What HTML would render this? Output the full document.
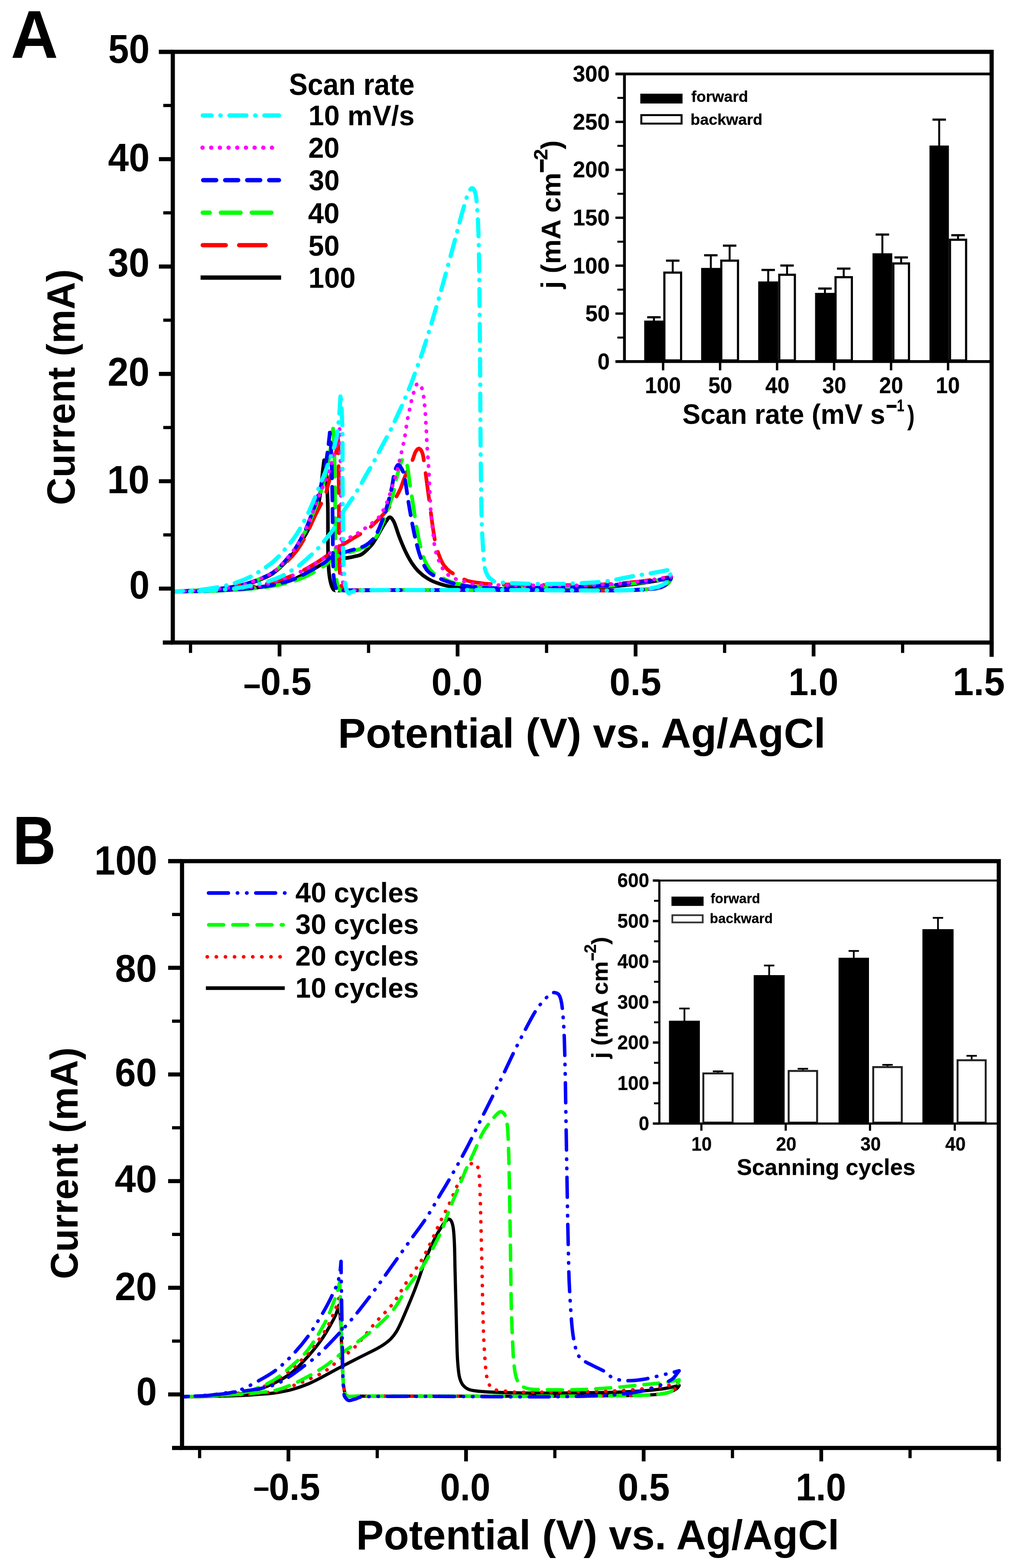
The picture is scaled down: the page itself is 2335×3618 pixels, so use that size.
<!DOCTYPE html>
<html lang="en"><head><meta charset="utf-8"><title>Figure: cyclic voltammograms</title>
<style>
html,body{margin:0;padding:0;background:#fff}
svg{display:block}
text{font-family:"Liberation Sans",Arial,Helvetica,sans-serif;font-weight:bold;fill:#000}
.ts{stroke:#000;stroke-width:0.3px}
path{fill:none}
</style></head>
<body>
<svg width="2335" height="3618" viewBox="0 0 2335 3618">
<rect width="2335" height="3618" fill="#fff"/>
<g id="panelA">
<g fill="none" stroke-linejoin="round">
<path d="M399 1365C409.2 1364.8 436.3 1364.8 460 1364C483.7 1363.2 520.8 1361.7 541 1360.5C561.2 1359.3 567.6 1358.5 581 1357C594.4 1355.5 608 1354 621.5 1351.5C635 1349 651.4 1344.9 661.8 1342C672.1 1339.1 676.3 1337.2 683.6 1334C690.9 1330.8 698.2 1326.8 705.4 1323C712.6 1319.2 719.7 1315.2 727 1311C734.3 1306.8 743.5 1301.4 749 1298C754.5 1294.6 755.5 1291.9 759.8 1290.5C764.1 1289.1 770 1289.8 775 1289.5C780 1289.2 785.3 1288.9 790 1288.5C794.7 1288.1 798.4 1287.8 803.4 1287C808.4 1286.2 814.6 1285 820 1283.5C825.4 1282 829.7 1282.4 836 1278C842.3 1273.6 852.3 1263.3 857.8 1257C863.3 1250.7 865.1 1246 868.8 1240C872.4 1234 876.1 1227.1 879.7 1221C883.3 1214.9 887.2 1208.1 890.5 1203.5C893.8 1198.9 896.5 1193.2 899.6 1193.5C902.7 1193.8 905.7 1197.6 909.3 1205C912.9 1212.4 916.7 1226.9 921 1238C925.3 1249.1 930.4 1261.6 935.1 1271.5C939.8 1281.4 944.1 1289.7 949.2 1297.5C954.3 1305.3 959.4 1312.2 965.7 1318.5C972 1324.8 979 1330.3 986.8 1335C994.6 1339.7 1002.4 1343.2 1012.6 1346.5C1022.8 1349.8 1034.1 1353 1047.8 1355C1061.5 1357 1077.8 1357.8 1094.8 1358.5C1111.8 1359.2 1115.8 1359.2 1150 1359C1184.2 1358.8 1258.3 1357.8 1300 1357C1341.7 1356.2 1372.8 1355.5 1400 1354C1427.2 1352.5 1445.8 1350 1463 1348C1480.2 1346 1488.7 1344.2 1503 1342C1517.3 1339.8 1541 1336.2 1548.6 1335L1548.6 1335C1547.5 1336.7 1545.9 1341.7 1542 1345C1538.1 1348.3 1533.7 1352.5 1525 1355C1516.3 1357.5 1510.8 1358.8 1490 1360C1469.2 1361.2 1448.3 1362.2 1400 1362.5C1351.7 1362.8 1266.7 1361.7 1200 1361.5C1133.3 1361.3 1066.3 1361.4 1000 1361.5C933.7 1361.6 839.3 1361.8 802 1362C764.7 1362.2 781.7 1363.2 776 1362.5C770.3 1361.8 770.3 1361.8 768 1358C765.7 1354.2 763.5 1347 762 1340C760.5 1333 759.6 1327.3 758.7 1316C757.8 1304.7 757.1 1293.8 756.8 1272C756.4 1250.2 756.8 1206.8 756.6 1185C756.4 1163.2 756.3 1157.7 755.5 1141C754.7 1124.3 753.3 1098.2 752 1085C750.7 1071.8 748.5 1065.8 747.8 1062L747.8 1062C747.3 1065.7 745.9 1076 745 1084C744.1 1092 743.9 1097.7 742.4 1110C740.9 1122.3 738.5 1145.3 735.9 1158C733.3 1170.7 730.3 1177.2 727 1186C723.7 1194.8 719.9 1203.2 716.3 1211C712.7 1218.8 710.8 1223.6 705.4 1233C700 1242.4 690.9 1257.3 683.6 1267.5C676.3 1277.7 669.1 1286.1 661.8 1294C654.5 1301.9 646.7 1309.3 640 1315C633.3 1320.7 631.3 1323.1 621.5 1328C611.7 1332.9 594.4 1340.1 581 1344.5C567.6 1348.9 554.5 1351.9 541 1354.5C527.5 1357.1 513.5 1358.6 500 1360C486.5 1361.4 476.8 1362.2 460 1363C443.2 1363.8 409.2 1364.7 399 1365" stroke="#000" stroke-width="8.4"/>
<path d="M399 1365C409.2 1364.8 436.3 1364.5 460 1363.5C483.7 1362.5 520.8 1360.6 541 1359C561.2 1357.4 567.6 1356.2 581 1354C594.4 1351.8 608 1349.5 621.5 1346C635 1342.5 651.4 1336.7 661.8 1333C672.1 1329.3 676.3 1327.3 683.6 1324C690.9 1320.7 698.2 1316.9 705.4 1313C712.6 1309.1 719.7 1305 727 1300.5C734.3 1296 743.2 1290 749 1286C754.8 1282 757.2 1280 762 1276.5C766.8 1273 772.9 1268.4 778 1265C783.1 1261.6 787.2 1259.3 792.5 1256C797.8 1252.7 803.5 1249 810 1245C816.5 1241 825.2 1236 831.7 1232C838.2 1228 842.8 1225.8 849 1221C855.2 1216.2 863 1208.5 868.8 1203C874.5 1197.5 879.1 1192.8 883.5 1188C887.9 1183.2 890.9 1179.5 895.2 1174C899.5 1168.5 904.6 1162.5 909.3 1155C914 1147.5 919.9 1136.5 923.4 1129C926.9 1121.5 927.5 1117.5 930.4 1110C933.3 1102.5 937.5 1092 941 1084C944.5 1076 948.7 1068.8 951.6 1062C954.5 1055.2 956.1 1047.5 958.6 1043C961.1 1038.5 964.1 1034.4 966.8 1035C969.5 1035.6 972.9 1039.8 975 1046.5C977.1 1053.2 978.1 1064.4 979.7 1075C981.3 1085.6 982.8 1098.3 984.4 1110C986 1121.7 987.5 1133.2 989.1 1145C990.7 1156.8 992.2 1168.8 993.8 1180.5C995.4 1192.2 996.5 1202.7 998.5 1215.5C1000.5 1228.3 1002.9 1245.8 1005.6 1257.5C1008.4 1269.2 1011.9 1278.2 1015 1286C1018.1 1293.8 1020.5 1299 1024.4 1304.5C1028.3 1310 1032.5 1314.7 1038.4 1319C1044.3 1323.3 1052.9 1327 1059.6 1330.5C1066.3 1334 1070.6 1337.6 1078.4 1340C1086.2 1342.4 1096 1343.7 1106.5 1345C1117 1346.3 1109.5 1347.2 1141.7 1348C1174 1348.8 1257 1350 1300 1350C1343 1350 1372.8 1349.2 1400 1348C1427.2 1346.8 1445.8 1344.7 1463 1343C1480.2 1341.3 1488.7 1340 1503 1338C1517.3 1336 1541 1332.2 1548.6 1331L1548.6 1331C1547.5 1332.7 1545.9 1337 1542 1341C1538.1 1345 1533.7 1351.8 1525 1355C1516.3 1358.2 1510.8 1358.8 1490 1360C1469.2 1361.2 1448.3 1362.2 1400 1362.5C1351.7 1362.8 1266.7 1361.7 1200 1361.5C1133.3 1361.3 1062.3 1361.4 1000 1361.5C937.7 1361.6 859.3 1361.8 826 1362C792.7 1362.2 806 1363.2 800 1362.5C794 1361.8 792.5 1362.6 790 1358C787.5 1353.4 786.2 1346.3 785 1335C783.8 1323.7 783.5 1312.5 783 1290C782.5 1267.5 782.2 1231.7 782 1200C781.8 1168.3 781.8 1130.8 781.5 1100C781.2 1069.2 780.7 1029.2 780.5 1015L780.5 1015C779.8 1019.2 778.1 1029.5 776 1040C773.9 1050.5 771.1 1065.2 768 1078C764.9 1090.8 760.8 1105.5 757.6 1117C754.4 1128.5 752.3 1138.5 749 1147C745.7 1155.5 741.7 1160.8 738 1168C734.3 1175.2 730.7 1182.3 727 1190C723.3 1197.7 719.6 1206.2 716 1214C712.4 1221.8 710.8 1227.3 705.4 1237C700 1246.7 690.9 1262.2 683.6 1272C676.3 1281.8 669.1 1289.2 661.8 1296C654.5 1302.8 646.7 1308 640 1313C633.3 1318 631.3 1321 621.5 1326C611.7 1331 594.4 1338.4 581 1343C567.6 1347.6 554.5 1350.8 541 1353.5C527.5 1356.2 513.5 1357.6 500 1359C486.5 1360.4 476.8 1361 460 1362C443.2 1363 409.2 1364.5 399 1365" stroke="#f00" stroke-width="8.6" stroke-dasharray="62.4 29.6" stroke-linecap="round" stroke-dashoffset="58.6"/>
<path d="M399 1365C409.2 1364.9 436.3 1365.1 460 1364.5C483.7 1363.9 520.8 1362.5 541 1361.5C561.2 1360.5 567.6 1359.8 581 1358.5C594.4 1357.2 608 1355.7 621.5 1353.5C635 1351.3 651.4 1347.9 661.8 1345.5C672.1 1343.1 676.3 1341.6 683.6 1339C690.9 1336.4 698.2 1333.3 705.4 1330C712.6 1326.7 719.7 1323.2 727 1319C734.3 1314.8 742.7 1309.5 749 1305C755.3 1300.5 759.6 1295.8 765 1292C770.4 1288.2 775.6 1284.6 781.6 1282C787.6 1279.4 793.8 1278.8 801 1276.5C808.2 1274.2 818.1 1270.9 825 1268.5C831.9 1266.1 837.1 1264.9 842.6 1262C848.1 1259.1 853.4 1255 857.8 1251C862.2 1247 865.1 1244 868.8 1238C872.4 1232 876.1 1223.4 879.7 1215C883.3 1206.6 887.3 1196.2 890.5 1187.5C893.7 1178.8 896.2 1170.8 899 1163C901.8 1155.2 904.1 1151.3 907 1140.5C909.9 1129.7 913.3 1110.4 916.4 1098C919.5 1085.6 923 1072.6 925.7 1066C928.4 1059.4 930.4 1056.9 932.8 1058.4C935.1 1059.9 937.6 1065.2 939.8 1075C941.9 1084.8 943.4 1101.4 945.7 1117C948.1 1132.6 951.4 1152.1 953.9 1168.5C956.4 1184.9 958.2 1199.8 961 1215.5C963.8 1231.2 966.9 1248.8 970.4 1262.5C973.9 1276.2 976.9 1287.3 982 1297.5C987.1 1307.7 993.8 1317.2 1000.9 1323.5C1008 1329.8 1016.6 1331.9 1024.4 1335.5C1032.2 1339.1 1036.1 1342.1 1047.8 1345C1059.5 1347.9 1077.8 1351 1094.8 1353C1111.8 1355 1115.8 1356.7 1150 1357C1184.2 1357.3 1258.3 1355.8 1300 1355C1341.7 1354.2 1372.8 1353.5 1400 1352C1427.2 1350.5 1445.8 1347.8 1463 1346C1480.2 1344.2 1488.7 1343 1503 1341C1517.3 1339 1541 1335.2 1548.6 1334L1548.6 1334C1547.5 1335.7 1545.9 1340.5 1542 1344C1538.1 1347.5 1533.7 1352.3 1525 1355C1516.3 1357.7 1510.8 1358.8 1490 1360C1469.2 1361.2 1448.3 1362.2 1400 1362.5C1351.7 1362.8 1266.7 1361.7 1200 1361.5C1133.3 1361.3 1063.8 1361.4 1000 1361.5C936.2 1361.6 851.8 1361.8 817 1362C782.2 1362.2 796.8 1363.2 791 1362.5C785.2 1361.8 784.3 1361.8 782 1358C779.7 1354.2 778.2 1349.7 777 1340C775.8 1330.3 775.1 1323.3 774.5 1300C773.9 1276.7 773.8 1233.3 773.5 1200C773.2 1166.7 772.9 1128.3 772.5 1100C772.1 1071.7 771.7 1048.5 771 1030C770.3 1011.5 768.9 995.8 768.5 989L768.5 989C767.9 994.2 766.4 1009.8 765 1020C763.6 1030.2 761.8 1039.2 760 1050C758.2 1060.8 756.2 1074.7 754 1085C751.8 1095.3 749.7 1102.3 747 1112C744.3 1121.7 741.3 1132.8 738 1143C734.7 1153.2 730.7 1163.5 727 1173C723.3 1182.5 719.7 1191.3 716 1200C712.3 1208.7 710.4 1214.5 705 1225C699.6 1235.5 690.8 1252 683.6 1263C676.4 1274 669.1 1282.7 661.8 1291C654.5 1299.3 646.7 1307.2 640 1313C633.3 1318.8 631.3 1321 621.5 1326C611.7 1331 594.4 1338.4 581 1343C567.6 1347.6 554.5 1350.8 541 1353.5C527.5 1356.2 513.5 1357.6 500 1359C486.5 1360.4 476.8 1361 460 1362C443.2 1363 409.2 1364.5 399 1365" stroke="#0f0" stroke-width="8.6" stroke-dasharray="46.8 24.4" stroke-linecap="round"/>
<path d="M399 1365C409.2 1364.8 436.3 1364.8 460 1364C483.7 1363.2 520.8 1361.7 541 1360.5C561.2 1359.3 567.6 1358.5 581 1357C594.4 1355.5 608 1354 621.5 1351.5C635 1349 651.4 1344.9 661.8 1342C672.1 1339.1 676.3 1337.2 683.6 1334C690.9 1330.8 698.2 1326.8 705.4 1323C712.6 1319.2 719.7 1315.2 727 1311C734.3 1306.8 743.2 1302 749 1298C754.8 1294 756.6 1290.2 762 1287C767.4 1283.8 775.1 1281.4 781.6 1279C788.1 1276.6 793.8 1274.8 801 1272.5C808.2 1270.2 818.1 1267.8 825 1265.5C831.9 1263.2 837.1 1262.1 842.6 1259C848.1 1255.9 853.4 1251.5 857.8 1247C862.2 1242.5 865.1 1238.7 868.8 1232C872.4 1225.3 876.4 1215.2 879.7 1207C883 1198.8 885.5 1192.2 888.4 1183C891.3 1173.8 894.7 1162.2 897.4 1152C900.1 1141.8 902.5 1132.3 904.6 1122C906.8 1111.7 907.9 1098.2 910.3 1090C912.7 1081.8 915.4 1072.7 918.8 1072.5C922.1 1072.3 927.7 1082.8 930.4 1089C933.1 1095.2 933.1 1098.7 935.1 1110C937.1 1121.3 939.7 1141.3 942.2 1157C944.8 1172.7 947.7 1189.5 950.4 1204C953.1 1218.5 955.7 1231.5 958.6 1244C961.5 1256.5 964.5 1268.5 968 1279C971.5 1289.5 975.4 1299.6 979.7 1307C984 1314.4 986.3 1318.2 993.8 1323.5C1001.2 1328.8 1013.4 1334.7 1024.4 1339C1035.4 1343.3 1047.9 1347 1059.6 1349.5C1071.3 1352 1079.7 1352.8 1094.8 1354C1109.9 1355.2 1115.8 1356.8 1150 1357C1184.2 1357.2 1258.3 1356 1300 1355C1341.7 1354 1372.8 1352.7 1400 1351C1427.2 1349.3 1445.8 1346.8 1463 1345C1480.2 1343.2 1488.7 1342 1503 1340C1517.3 1338 1541 1334.2 1548.6 1333L1548.6 1333C1547.5 1334.7 1545.9 1339.3 1542 1343C1538.1 1346.7 1533.7 1352.2 1525 1355C1516.3 1357.8 1510.8 1358.8 1490 1360C1469.2 1361.2 1448.3 1362.2 1400 1362.5C1351.7 1362.8 1266.7 1361.7 1200 1361.5C1133.3 1361.3 1065 1361.4 1000 1361.5C935 1361.6 846 1361.8 810 1362C774 1362.2 789.7 1363.2 784 1362.5C778.3 1361.8 778.2 1361.8 776 1358C773.8 1354.2 772.2 1349.7 771 1340C769.8 1330.3 769.1 1323.3 768.5 1300C767.9 1276.7 767.9 1233.3 767.5 1200C767.1 1166.7 766.6 1127.5 766 1100C765.4 1072.5 764.8 1052 764 1035C763.2 1018 761.5 1004.2 761 998L761 998C760.5 1002.5 759.3 1014.3 758 1025C756.7 1035.7 754.8 1050.3 753 1062C751.2 1073.7 749.5 1083.7 747 1095C744.5 1106.3 741.3 1118.3 738 1130C734.7 1141.7 730.7 1154.2 727 1165C723.3 1175.8 719.7 1185.5 716 1195C712.3 1204.5 710.4 1210.8 705 1222C699.6 1233.2 690.8 1250.7 683.6 1262C676.4 1273.3 669.1 1281.5 661.8 1290C654.5 1298.5 646.7 1307 640 1313C633.3 1319 631.3 1321 621.5 1326C611.7 1331 594.4 1338.4 581 1343C567.6 1347.6 554.5 1350.8 541 1353.5C527.5 1356.2 513.5 1357.6 500 1359C486.5 1360.4 476.8 1361 460 1362C443.2 1363 409.2 1364.5 399 1365" stroke="#00f" stroke-width="8.6" stroke-dasharray="31.4 19.4" stroke-linecap="round"/>
<path d="M399 1365C409.2 1364.8 436.3 1364.5 460 1363.5C483.7 1362.5 520.8 1360.6 541 1359C561.2 1357.4 567.6 1356.2 581 1354C594.4 1351.8 608 1349.5 621.5 1346C635 1342.5 651.4 1336.7 661.8 1333C672.1 1329.3 676.3 1327.3 683.6 1324C690.9 1320.7 698.2 1316.9 705.4 1313C712.6 1309.1 719.7 1305 727 1300.5C734.3 1296 743.2 1290.2 749 1286C754.8 1281.8 757.5 1279 762 1275C766.5 1271 771.3 1266.1 776 1262C780.7 1257.9 784.7 1254.2 790 1250.5C795.3 1246.8 802.6 1242.9 807.7 1240C812.8 1237.1 816.1 1235.7 820.8 1233C825.5 1230.3 831.3 1227.2 836 1224C840.7 1220.8 843.5 1217.6 849 1213.5C854.5 1209.4 863.7 1204.2 868.8 1199.5C873.9 1194.8 876.8 1189.2 879.7 1185C882.6 1180.8 883.8 1178.3 886 1174C888.2 1169.7 891 1163.8 892.9 1159C894.8 1154.2 895.9 1150.5 897.6 1145.5C899.4 1140.5 901.6 1134.5 903.4 1129C905.1 1123.5 906.3 1118.2 908.1 1112.5C909.9 1106.8 911.6 1103.6 914 1095C916.4 1086.4 920.2 1069.4 922.2 1061C924.2 1052.6 924.8 1050.4 926.2 1044.5C927.6 1038.6 929.1 1031.6 930.4 1025.5C931.7 1019.4 932.9 1014.1 934 1008C935.1 1001.9 935.8 995.2 936.8 989C937.8 982.8 938.7 976.6 939.8 970.5C940.9 964.4 942.1 958.4 943.4 952.5C944.6 946.6 946 941 947.3 935C948.6 929 949.6 922.2 951.1 916.5C952.6 910.8 954.5 906.1 956.3 901C958.1 895.9 959.8 888.2 962.1 886C964.5 883.8 968 884.5 970.4 888C972.8 891.5 974.8 900.8 976.2 907C977.6 913.2 977.8 919.1 978.6 925.5C979.4 931.9 980.3 938.6 980.9 945.5C981.5 952.4 981.7 960.2 982.1 967C982.5 973.8 982.9 979.9 983.3 986.5C983.7 993.1 984.1 999.8 984.4 1006.5C984.7 1013.2 984.7 1019.8 985.1 1026.5C985.5 1033.2 986.3 1039.8 986.8 1046.5C987.3 1053.2 987.5 1059.8 988 1066.5C988.5 1073.2 989.2 1079.8 989.6 1086.5C990 1093.2 990 1099.8 990.3 1106.5C990.6 1113.2 991.2 1119.8 991.5 1126.5C991.8 1133.2 991.9 1139.8 992.2 1146.5C992.5 1153.2 992.7 1160.1 993.1 1166.5C993.5 1172.9 994 1178.6 994.5 1185C995 1191.4 995.5 1198.3 996.2 1205C997 1211.7 998.2 1218.2 999 1225C999.8 1231.8 1000.1 1239.3 1000.9 1246C1001.7 1252.7 1002.5 1259.1 1003.7 1265C1004.9 1270.9 1006.2 1276.2 1007.9 1281.5C1009.6 1286.8 1011.6 1291.6 1013.8 1296.5C1015.9 1301.4 1018.1 1306.5 1020.8 1311C1023.5 1315.5 1026.5 1320 1030.2 1323.5C1033.9 1327 1038.6 1329.6 1043.1 1332C1047.6 1334.4 1052.1 1336.2 1057.2 1338C1062.3 1339.8 1068.2 1341 1073.7 1342.5C1079.2 1344 1077.3 1345.8 1090 1347C1102.7 1348.2 1115 1349.3 1150 1350C1185 1350.7 1258.3 1351.2 1300 1351C1341.7 1350.8 1372.8 1349.8 1400 1348.5C1427.2 1347.2 1445.8 1344.8 1463 1343C1480.2 1341.2 1488.7 1340.2 1503 1338C1517.3 1335.8 1541 1331.3 1548.6 1330L1548.6 1330C1547.5 1331.7 1545.9 1335.8 1542 1340C1538.1 1344.2 1533.7 1351.7 1525 1355C1516.3 1358.3 1510.8 1358.8 1490 1360C1469.2 1361.2 1448.3 1362.2 1400 1362.5C1351.7 1362.8 1266.7 1361.7 1200 1361.5C1133.3 1361.3 1061.7 1361.4 1000 1361.5C938.3 1361.6 862.7 1361.8 830 1362C797.3 1362.2 809.8 1363.2 804 1362.5C798.2 1361.8 797.3 1362.6 795 1358C792.7 1353.4 791.2 1346.3 790 1335C788.8 1323.7 788.5 1312.5 788 1290C787.5 1267.5 787.3 1231.7 787 1200C786.7 1168.3 786.5 1135.5 786 1100C785.5 1064.5 784.3 1005.8 784 987L784 987C783.2 991.7 781.3 1004.5 779 1015C776.7 1025.5 773.2 1038.3 770 1050C766.8 1061.7 763.3 1074.7 760 1085C756.7 1095.3 753.7 1102.8 750 1112C746.3 1121.2 741.8 1130.7 738 1140C734.2 1149.3 730.7 1158.7 727 1168C723.3 1177.3 719.7 1187 716 1196C712.3 1205 710.4 1211.2 705 1222C699.6 1232.8 690.8 1249.8 683.6 1261C676.4 1272.2 669.1 1280.3 661.8 1289C654.5 1297.7 646.7 1306.8 640 1313C633.3 1319.2 631.3 1321 621.5 1326C611.7 1331 594.4 1338.4 581 1343C567.6 1347.6 554.5 1350.8 541 1353.5C527.5 1356.2 513.5 1357.6 500 1359C486.5 1360.4 476.8 1361 460 1362C443.2 1363 409.2 1364.5 399 1365" stroke="#f0f" stroke-width="8.6" stroke-dasharray="0.9 19.13" stroke-linecap="round"/>
<path d="M399 1365C409.2 1364.8 443.2 1364.1 460 1363.5C476.8 1362.9 486.5 1362.4 500 1361.5C513.5 1360.6 527.5 1359.8 541 1358C554.5 1356.2 567.6 1353.9 581 1351C594.4 1348.1 610.6 1343.8 621.5 1340.5C632.4 1337.2 639.8 1333.9 646.5 1331C653.2 1328.1 654.5 1327.3 661.8 1323C669 1318.7 681.6 1311.2 690 1305C698.4 1298.8 704.7 1292.6 712 1286C719.3 1279.4 726.8 1272.8 733.7 1265.5C740.6 1258.2 747.1 1249.8 753.3 1242C759.5 1234.2 764.2 1229.3 770.7 1219C777.2 1208.7 785.2 1191.8 792.5 1180C799.8 1168.2 807.8 1158.1 814.3 1148C820.8 1137.9 826.6 1128.2 831.7 1119.5C836.8 1110.8 839.3 1105.6 844.8 1096C850.2 1086.4 858.6 1072.6 864.4 1062C870.2 1051.4 875 1041.4 879.7 1032.5C884.4 1023.6 888.9 1015.6 892.7 1008.5C896.5 1001.4 898 998.9 902.3 990C906.6 981.1 914 965.2 918.7 955C923.4 944.8 925.7 939.9 930.4 929C935.1 918.1 942.2 901.3 946.9 889.5C951.6 877.7 953.9 870.9 958.6 858C963.3 845.1 968.9 830.3 975 812C981.1 793.7 988.3 770 995 748C1001.7 726 1008.3 703.3 1015 680C1021.7 656.7 1028.8 630.5 1035 608C1041.2 585.5 1046.8 564.3 1052 545C1057.2 525.7 1061.8 507 1066 492C1070.2 477 1074 463.8 1077 455C1080 446.2 1082 442.4 1084 439C1086 435.6 1087.3 434.5 1089 434.3C1090.7 434.1 1092.5 435.1 1094 438C1095.5 440.9 1096.8 445 1098 452C1099.2 459 1100 465.2 1101 480C1102 494.8 1103.2 512.7 1104 541C1104.8 569.3 1105.4 600.2 1106 650C1106.6 699.8 1107.2 777 1107.7 840C1108.2 903 1108.3 969.3 1108.9 1028C1109.5 1086.7 1110.2 1151.8 1111.2 1192C1112.2 1232.2 1113.6 1249.9 1114.8 1269.5C1116 1289.1 1116.5 1299.7 1118.3 1309.5C1120 1319.3 1122.6 1323.8 1125.3 1328.5C1128 1333.2 1130.4 1335.5 1134.7 1338C1139 1340.5 1136.5 1342 1151 1343.5C1165.5 1345 1196.3 1346.4 1221.5 1347C1246.7 1347.6 1275.2 1347.7 1302 1347C1328.8 1346.3 1362.5 1344.7 1382.6 1343C1402.7 1341.3 1409.4 1339.3 1422.8 1337C1436.2 1334.7 1449.6 1331.4 1463 1329C1476.4 1326.6 1489 1325 1503.3 1322.5C1517.6 1320 1541 1315.4 1548.6 1314L1548.6 1314C1548 1316.7 1547.3 1324.7 1545 1330C1542.7 1335.3 1540.8 1341.7 1535 1346C1529.2 1350.3 1520.8 1353.6 1510 1356C1499.2 1358.4 1488.3 1359.4 1470 1360.5C1451.7 1361.6 1445 1362.3 1400 1362.5C1355 1362.7 1266.7 1361.7 1200 1361.5C1133.3 1361.3 1060 1361.4 1000 1361.5C940 1361.6 871.3 1361.2 840 1362C808.7 1362.8 818.1 1365 812 1366C805.9 1367 805.9 1370.9 803.4 1368C800.9 1365.1 798.7 1360.8 796.9 1348.5C795.1 1336.2 793.4 1317.6 792.5 1294C791.6 1270.4 791.8 1239.7 791.4 1207C791 1174.3 790.5 1130.8 790.3 1098C790.1 1065.2 790.6 1034.7 790.3 1010C790 985.3 789.2 967 788.5 950C787.8 933 786.4 915 786 908L786 908C785.4 916.7 784 943.7 782.5 960C781 976.3 779.2 994 777.2 1006C775.2 1018 774 1021.5 770.7 1032C767.4 1042.5 761.2 1058.8 757.6 1069C754 1079.2 752.3 1084.5 749 1093C745.7 1101.5 742 1110.2 738 1120C734 1129.8 729.3 1141.7 725 1152C720.7 1162.3 717.1 1171.4 712 1182C706.9 1192.6 699.7 1206.2 694.5 1215.5C689.3 1224.8 686.4 1230.2 681 1238C675.6 1245.8 668.2 1254.5 662 1262C655.8 1269.5 650.8 1276.2 644 1283C637.2 1289.8 632 1295.3 621.5 1303C611 1310.7 594.4 1321.9 581 1329C567.6 1336.1 554.5 1341.1 541 1345.5C527.5 1349.9 513.5 1352.9 500 1355.5C486.5 1358.1 476.8 1359.4 460 1361C443.2 1362.6 409.2 1364.3 399 1365" stroke="#0ff" stroke-width="9.6" stroke-dasharray="39.4 20.1 0.9 20.1" stroke-linecap="round" stroke-dashoffset="19.9"/>
</g>
<line x1="366.7" y1="119.6" x2="398.7" y2="119.6" stroke="#000" stroke-width="9.4" stroke-linecap="butt"/>
<line x1="366.7" y1="367.3" x2="398.7" y2="367.3" stroke="#000" stroke-width="9.4" stroke-linecap="butt"/>
<line x1="366.7" y1="615" x2="398.7" y2="615" stroke="#000" stroke-width="9.4" stroke-linecap="butt"/>
<line x1="366.7" y1="862.7" x2="398.7" y2="862.7" stroke="#000" stroke-width="9.4" stroke-linecap="butt"/>
<line x1="366.7" y1="1110.4" x2="398.7" y2="1110.4" stroke="#000" stroke-width="9.4" stroke-linecap="butt"/>
<line x1="366.7" y1="1358.1" x2="398.7" y2="1358.1" stroke="#000" stroke-width="9.4" stroke-linecap="butt"/>
<line x1="376.7" y1="243.4" x2="398.7" y2="243.4" stroke="#000" stroke-width="7.4" stroke-linecap="butt"/>
<line x1="376.7" y1="491.1" x2="398.7" y2="491.1" stroke="#000" stroke-width="7.4" stroke-linecap="butt"/>
<line x1="376.7" y1="738.8" x2="398.7" y2="738.8" stroke="#000" stroke-width="7.4" stroke-linecap="butt"/>
<line x1="376.7" y1="986.5" x2="398.7" y2="986.5" stroke="#000" stroke-width="7.4" stroke-linecap="butt"/>
<line x1="376.7" y1="1234.2" x2="398.7" y2="1234.2" stroke="#000" stroke-width="7.4" stroke-linecap="butt"/>
<line x1="645" y1="1482.6" x2="645" y2="1514.6" stroke="#000" stroke-width="8.6" stroke-linecap="butt"/>
<line x1="1055.8" y1="1482.6" x2="1055.8" y2="1514.6" stroke="#000" stroke-width="8.6" stroke-linecap="butt"/>
<line x1="1466.5" y1="1482.6" x2="1466.5" y2="1514.6" stroke="#000" stroke-width="8.6" stroke-linecap="butt"/>
<line x1="1877.2" y1="1482.6" x2="1877.2" y2="1514.6" stroke="#000" stroke-width="8.6" stroke-linecap="butt"/>
<line x1="439.6" y1="1482.6" x2="439.6" y2="1506.6" stroke="#000" stroke-width="7.4" stroke-linecap="butt"/>
<line x1="850.4" y1="1482.6" x2="850.4" y2="1506.6" stroke="#000" stroke-width="7.4" stroke-linecap="butt"/>
<line x1="1261.1" y1="1482.6" x2="1261.1" y2="1506.6" stroke="#000" stroke-width="7.4" stroke-linecap="butt"/>
<line x1="1671.9" y1="1482.6" x2="1671.9" y2="1506.6" stroke="#000" stroke-width="7.4" stroke-linecap="butt"/>
<line x1="2082.6" y1="1482.6" x2="2082.6" y2="1506.6" stroke="#000" stroke-width="7.4" stroke-linecap="butt"/>
<rect x="398.7" y="119.6" width="1889.3" height="1363" fill="none" stroke="#000" stroke-width="9.6"/>
<line x1="366.7" y1="119.6" x2="398.7" y2="119.6" stroke="#000" stroke-width="9.6" stroke-linecap="butt"/>
<line x1="375.7" y1="1482.6" x2="398.7" y2="1482.6" stroke="#000" stroke-width="9.6" stroke-linecap="butt"/>
<line x1="2288" y1="1482.6" x2="2288" y2="1515.6" stroke="#000" stroke-width="9.6" stroke-linecap="butt"/>
<text transform="translate(24.8 133.1) scale(0.9687 1)" font-size="156.23">A</text>
<text transform="translate(249.7 145.4) scale(0.9227 1)" font-size="92.96">50</text>
<text transform="translate(249.2 395.3) scale(0.9436 1)" font-size="91.41">40</text>
<text transform="translate(249.0 637.7) scale(0.9233 1)" font-size="93.38">30</text>
<text transform="translate(248.2 889.9) scale(0.9422 1)" font-size="92.39">20</text>
<text transform="translate(247.2 1138.1) scale(0.9682 1)" font-size="90.85">10</text>
<text transform="translate(298.2 1380.6) scale(0.9213 1)" font-size="91.41">0</text>
<text transform="translate(561.2 1608.9) scale(0.9193 1)" font-size="76.36">−</text>
<text transform="translate(600.9 1603.1) scale(0.9449 1)" font-size="89.72">0.5</text>
<text transform="translate(995.6 1603.6) scale(0.9474 1)" font-size="89.44">0.0</text>
<text transform="translate(1406.3 1603.6) scale(0.9623 1)" font-size="89.44">0.5</text>
<text transform="translate(1819.6 1603.6) scale(0.9223 1)" font-size="89.44">1.0</text>
<text transform="translate(2198.4 1603.6) scale(0.9610 1)" font-size="90.00">1.5</text>
<text transform="translate(779.7 1724.8) scale(1.0000 1)" font-size="96.28">Potential (V) vs. Ag/AgCl</text>
<text transform="translate(171.6 1165.5) rotate(-90) scale(0.9654 1)" font-size="91.44">Current (mA)</text>
<path d="M468 266.5H643.6" stroke="#0ff" stroke-width="10" stroke-dasharray="39 20.5 0.5 20.5" stroke-linecap="round" stroke-dashoffset="19"/>
<path d="M467.3 340.7H628" stroke="#f0f" stroke-width="10" stroke-dasharray="0.01 20.02" stroke-linecap="round" stroke-dashoffset="0"/>
<path d="M468.8 415.7H643.6" stroke="#00f" stroke-width="10" stroke-dasharray="30 20.8" stroke-linecap="round" stroke-dashoffset="0"/>
<path d="M467.8 490.8H627.2" stroke="#0f0" stroke-width="10" stroke-dasharray="45.4 25.8" stroke-linecap="round" stroke-dashoffset="29.4"/>
<path d="M467.8 565.7H613.2" stroke="#f00" stroke-width="10" stroke-dasharray="61 31" stroke-linecap="round" stroke-dashoffset="8"/>
<path d="M462.8 640.5H648.6" stroke="#000" stroke-width="10"/>
<text transform="translate(666.7 219.3) scale(0.9147 1)" font-size="70.42">Scan rate</text>
<text transform="translate(711.8 289.2) scale(0.9867 1)" font-size="65.64">10 mV/s</text>
<text transform="translate(711.2 363.8) scale(0.9699 1)" font-size="67.04">20</text>
<text transform="translate(712.4 439.1) scale(0.9535 1)" font-size="67.04">30</text>
<text transform="translate(710.7 514.7) scale(0.9770 1)" font-size="67.04">40</text>
<text transform="translate(711.6 589.7) scale(0.9652 1)" font-size="67.04">50</text>
<text transform="translate(711.8 663.8) scale(0.9722 1)" font-size="67.04">100</text>
<line x1="1420" y1="170.6" x2="1440.8" y2="170.6" stroke="#000" stroke-width="5.4" stroke-linecap="butt"/>
<line x1="1420" y1="281.2" x2="1440.8" y2="281.2" stroke="#000" stroke-width="5.4" stroke-linecap="butt"/>
<line x1="1420" y1="391.8" x2="1440.8" y2="391.8" stroke="#000" stroke-width="5.4" stroke-linecap="butt"/>
<line x1="1420" y1="502.4" x2="1440.8" y2="502.4" stroke="#000" stroke-width="5.4" stroke-linecap="butt"/>
<line x1="1420" y1="613" x2="1440.8" y2="613" stroke="#000" stroke-width="5.4" stroke-linecap="butt"/>
<line x1="1420" y1="723.6" x2="1440.8" y2="723.6" stroke="#000" stroke-width="5.4" stroke-linecap="butt"/>
<line x1="1420" y1="834.2" x2="1440.8" y2="834.2" stroke="#000" stroke-width="5.4" stroke-linecap="butt"/>
<line x1="1424.5" y1="225.9" x2="1440.8" y2="225.9" stroke="#000" stroke-width="4.6" stroke-linecap="butt"/>
<line x1="1424.5" y1="336.5" x2="1440.8" y2="336.5" stroke="#000" stroke-width="4.6" stroke-linecap="butt"/>
<line x1="1424.5" y1="447.1" x2="1440.8" y2="447.1" stroke="#000" stroke-width="4.6" stroke-linecap="butt"/>
<line x1="1424.5" y1="557.7" x2="1440.8" y2="557.7" stroke="#000" stroke-width="4.6" stroke-linecap="butt"/>
<line x1="1424.5" y1="668.3" x2="1440.8" y2="668.3" stroke="#000" stroke-width="4.6" stroke-linecap="butt"/>
<line x1="1424.5" y1="778.9" x2="1440.8" y2="778.9" stroke="#000" stroke-width="4.6" stroke-linecap="butt"/>
<line x1="1530" y1="834.2" x2="1530" y2="854.5" stroke="#000" stroke-width="5.5" stroke-linecap="butt"/>
<line x1="1661.5" y1="834.2" x2="1661.5" y2="854.5" stroke="#000" stroke-width="5.5" stroke-linecap="butt"/>
<line x1="1793" y1="834.2" x2="1793" y2="854.5" stroke="#000" stroke-width="5.5" stroke-linecap="butt"/>
<line x1="1924.5" y1="834.2" x2="1924.5" y2="854.5" stroke="#000" stroke-width="5.5" stroke-linecap="butt"/>
<line x1="2056" y1="834.2" x2="2056" y2="854.5" stroke="#000" stroke-width="5.5" stroke-linecap="butt"/>
<line x1="2187.5" y1="834.2" x2="2187.5" y2="854.5" stroke="#000" stroke-width="5.5" stroke-linecap="butt"/>
<line x1="1508.8" y1="732" x2="1508.8" y2="741.7" stroke="#000" stroke-width="4.5" stroke-linecap="butt"/>
<line x1="1493.3" y1="732" x2="1524.3" y2="732" stroke="#000" stroke-width="5" stroke-linecap="butt"/>
<line x1="1552.2" y1="601.4" x2="1552.2" y2="631" stroke="#000" stroke-width="4.5" stroke-linecap="butt"/>
<line x1="1536.7" y1="601.4" x2="1567.7" y2="601.4" stroke="#000" stroke-width="5" stroke-linecap="butt"/>
<rect x="1486.4" y="739.7" width="44.8" height="94.5" fill="#000"/>
<rect x="1532.9" y="629" width="38.6" height="202.7" fill="#fff" stroke="#000" stroke-width="5"/>
<line x1="1640.1" y1="589" x2="1640.1" y2="620.2" stroke="#000" stroke-width="4.5" stroke-linecap="butt"/>
<line x1="1624.6" y1="589" x2="1655.6" y2="589" stroke="#000" stroke-width="5" stroke-linecap="butt"/>
<line x1="1683.5" y1="566.8" x2="1683.5" y2="603.4" stroke="#000" stroke-width="4.5" stroke-linecap="butt"/>
<line x1="1668" y1="566.8" x2="1699" y2="566.8" stroke="#000" stroke-width="5" stroke-linecap="butt"/>
<rect x="1617.7" y="618.2" width="44.8" height="216" fill="#000"/>
<rect x="1664.2" y="601.4" width="38.6" height="230.3" fill="#fff" stroke="#000" stroke-width="5"/>
<line x1="1772.5" y1="622.9" x2="1772.5" y2="651.4" stroke="#000" stroke-width="4.5" stroke-linecap="butt"/>
<line x1="1757" y1="622.9" x2="1788" y2="622.9" stroke="#000" stroke-width="5" stroke-linecap="butt"/>
<line x1="1816" y1="612.7" x2="1816" y2="636" stroke="#000" stroke-width="4.5" stroke-linecap="butt"/>
<line x1="1800.5" y1="612.7" x2="1831.5" y2="612.7" stroke="#000" stroke-width="5" stroke-linecap="butt"/>
<rect x="1749.4" y="649.4" width="46.1" height="184.8" fill="#000"/>
<rect x="1798" y="634" width="36" height="197.7" fill="#fff" stroke="#000" stroke-width="5"/>
<line x1="1903.4" y1="665.8" x2="1903.4" y2="677.8" stroke="#000" stroke-width="4.5" stroke-linecap="butt"/>
<line x1="1887.9" y1="665.8" x2="1918.9" y2="665.8" stroke="#000" stroke-width="5" stroke-linecap="butt"/>
<line x1="1946.7" y1="619.8" x2="1946.7" y2="641.6" stroke="#000" stroke-width="4.5" stroke-linecap="butt"/>
<line x1="1931.2" y1="619.8" x2="1962.2" y2="619.8" stroke="#000" stroke-width="5" stroke-linecap="butt"/>
<rect x="1880.6" y="675.8" width="45.6" height="158.4" fill="#000"/>
<rect x="1927.9" y="639.6" width="37.6" height="192.1" fill="#fff" stroke="#000" stroke-width="5"/>
<line x1="2035.9" y1="541.2" x2="2035.9" y2="586.4" stroke="#000" stroke-width="4.5" stroke-linecap="butt"/>
<line x1="2020.4" y1="541.2" x2="2051.4" y2="541.2" stroke="#000" stroke-width="5" stroke-linecap="butt"/>
<line x1="2079.2" y1="594" x2="2079.2" y2="609.9" stroke="#000" stroke-width="4.5" stroke-linecap="butt"/>
<line x1="2063.8" y1="594" x2="2094.8" y2="594" stroke="#000" stroke-width="5" stroke-linecap="butt"/>
<rect x="2013.2" y="584.4" width="45.5" height="249.8" fill="#000"/>
<rect x="2061.2" y="607.9" width="36.1" height="223.8" fill="#fff" stroke="#000" stroke-width="5"/>
<line x1="2167" y1="276" x2="2167" y2="337.8" stroke="#000" stroke-width="4.5" stroke-linecap="butt"/>
<line x1="2151.5" y1="276" x2="2182.5" y2="276" stroke="#000" stroke-width="5" stroke-linecap="butt"/>
<line x1="2210.5" y1="542.7" x2="2210.5" y2="555.2" stroke="#000" stroke-width="4.5" stroke-linecap="butt"/>
<line x1="2195" y1="542.7" x2="2226" y2="542.7" stroke="#000" stroke-width="5" stroke-linecap="butt"/>
<rect x="2144.6" y="335.8" width="44.8" height="498.4" fill="#000"/>
<rect x="2191.9" y="553.2" width="37.2" height="278.5" fill="#fff" stroke="#000" stroke-width="5"/>
<line x1="1440.8" y1="170.6" x2="1440.8" y2="834.2" stroke="#000" stroke-width="6.5" stroke-linecap="butt"/>
<line x1="1420" y1="170.6" x2="2288" y2="170.6" stroke="#000" stroke-width="6.4" stroke-linecap="butt"/>
<line x1="1420" y1="834.2" x2="2288" y2="834.2" stroke="#000" stroke-width="6.4" stroke-linecap="butt"/>
<text transform="translate(1321.7 188.2) scale(0.9819 1)" font-size="51.97" class="ts">300</text>
<text transform="translate(1321.7 298.8) scale(0.9819 1)" font-size="51.97" class="ts">250</text>
<text transform="translate(1321.7 409.4) scale(0.9819 1)" font-size="51.97" class="ts">200</text>
<text transform="translate(1321.7 520.0) scale(0.9818 1)" font-size="51.97" class="ts">150</text>
<text transform="translate(1321.7 630.6) scale(0.9818 1)" font-size="51.97" class="ts">100</text>
<text transform="translate(1350.4 741.2) scale(0.9800 1)" font-size="51.97" class="ts">50</text>
<text transform="translate(1378.8 851.8) scale(0.9734 1)" font-size="51.97" class="ts">0</text>
<text transform="translate(1487.9 906.5) scale(0.9517 1)" font-size="52.25" class="ts">100</text>
<text transform="translate(1634.2 906.5) scale(0.9498 1)" font-size="52.25" class="ts">50</text>
<text transform="translate(1766.1 906.5) scale(0.9499 1)" font-size="52.25" class="ts">40</text>
<text transform="translate(1897.3 906.5) scale(0.9498 1)" font-size="52.25" class="ts">30</text>
<text transform="translate(2028.6 906.5) scale(0.9498 1)" font-size="52.25" class="ts">20</text>
<text transform="translate(2159.3 906.5) scale(0.9496 1)" font-size="52.25" class="ts">10</text>
<rect x="1477.4" y="216.2" width="97.4" height="22.6" fill="#000"/>
<rect x="1479.7" y="265.6" width="92.9" height="19.6" fill="#fff" stroke="#000" stroke-width="4.5"/>
<text transform="translate(1595.1 235.0) scale(0.9956 1)" font-size="35.92" class="ts">forward</text>
<text transform="translate(1593.3 288.0) scale(1.0094 1)" font-size="35.65" class="ts">backward</text>
<text transform="translate(1292.7 666.2) rotate(-90) scale(1.0140 1)" font-size="63.10">j (mA cm</text>
<text transform="translate(1276.1 399.7) rotate(-90) scale(0.7609 1)" font-size="77.27">−</text>
<text transform="translate(1263.2 369.4) rotate(-90) scale(1.0423 1)" font-size="44.57" class="ts">2</text>
<text transform="translate(1292.7 344.7) rotate(-90) scale(0.9961 1)" font-size="63.10">)</text>
<text transform="translate(1574.6 978.0) scale(0.9754 1)" font-size="63.96">Scan rate (mV s</text>
<text transform="translate(2043.8 959.3) scale(0.7103 1)" font-size="63.64">−</text>
<text transform="translate(2069.5 948.6) scale(0.7749 1)" font-size="39.13" class="ts">1</text>
<text transform="translate(2093.2 980.2) scale(0.8179 1)" font-size="63.32">)</text>
</g>
<g id="panelB">
<g fill="none" stroke-linejoin="round">
<path d="M420 3222.5C429.7 3222.4 455.4 3222.4 478 3222C500.6 3221.6 536.3 3220.8 555.8 3220C575.3 3219.2 581.8 3218.5 594.8 3217.5C607.8 3216.5 620.8 3215.8 633.8 3214C646.8 3212.2 659.7 3210 672.7 3206.5C685.7 3203 698.7 3198.5 711.7 3193C724.7 3187.5 738.7 3179.7 750.6 3173.5C762.5 3167.3 770 3162.8 783 3156C796 3149.2 814.5 3139.7 828.6 3132.5C842.7 3125.3 857.9 3118.1 867.5 3113C877.1 3107.9 880.2 3106 886 3102C891.8 3098 897.2 3094 902 3089C906.8 3084 911 3078.5 915 3072C919 3065.5 921.6 3059.7 926 3050C930.4 3040.3 936.3 3026.3 941.5 3014C946.7 3001.7 952.4 2987.8 957 2976C961.6 2964.2 965 2954.3 969 2943C973 2931.7 976.5 2919.7 981 2908C985.5 2896.3 991.2 2883.5 996 2873C1000.8 2862.5 1005.2 2853.5 1010 2845C1014.8 2836.5 1021.2 2826.9 1024.7 2822C1028.2 2817.1 1029 2817 1031 2815.5C1033 2814 1034.6 2812.4 1036.4 2813C1038.2 2813.6 1040.4 2815.3 1042 2819C1043.6 2822.7 1044.9 2826.5 1046 2835C1047.1 2843.5 1047.8 2853.5 1048.5 2870C1049.2 2886.5 1049.4 2910.4 1050 2934C1050.6 2957.6 1051.3 2985.6 1052 3011.5C1052.7 3037.4 1053.3 3068.1 1053.9 3089.5C1054.5 3110.9 1054.8 3125.7 1055.8 3140C1056.8 3154.3 1057.8 3166.3 1059.7 3175.5C1061.7 3184.7 1063.6 3189.8 1067.5 3195C1071.4 3200.2 1075.2 3203.8 1083 3206.5C1090.8 3209.2 1099 3209.8 1114 3211C1129 3212.2 1149.9 3212.9 1172.7 3213.5C1195.5 3214.1 1212.7 3214.6 1250.6 3214.5C1288.5 3214.4 1361.8 3213.8 1400 3213C1438.2 3212.2 1458.3 3210.9 1480 3209.5C1501.7 3208.1 1515.5 3206.6 1530 3204.5C1544.5 3202.4 1560.8 3198.2 1567 3197L1567 3197C1566 3198.2 1564.7 3202 1561 3204.5C1557.3 3207 1552.7 3209.8 1545 3212C1537.3 3214.2 1529.2 3216.2 1515 3217.5C1500.8 3218.8 1495.8 3219.3 1460 3220C1424.2 3220.7 1376.7 3221.2 1300 3221.5C1223.3 3221.8 1078.3 3221.5 1000 3221.5C921.7 3221.5 862.3 3221.4 830 3221.5C797.7 3221.6 811.5 3222.8 806 3222C800.5 3221.2 799.2 3221.5 797 3217C794.8 3212.5 793.7 3206.2 792.5 3195C791.3 3183.8 790.8 3165.8 790 3150C789.2 3134.2 788.7 3116.7 788 3100C787.3 3083.3 787 3064.8 786 3050C785 3035.2 782.7 3017.9 782 3011.5L782 3011.5C780.8 3015.1 777.6 3026.5 775 3033C772.4 3039.5 771.6 3041.1 766.2 3050.5C760.9 3059.9 752 3076.5 742.9 3089.5C733.8 3102.5 723.4 3115.5 711.7 3128.5C700 3141.5 685.7 3157.1 672.7 3167.5C659.7 3177.9 646.8 3184.5 633.8 3191C620.8 3197.5 607.8 3202.3 594.8 3206.5C581.8 3210.7 575.3 3213.4 555.8 3216C536.3 3218.6 500.6 3220.8 478 3222C455.4 3223.2 429.7 3222.8 420 3223" stroke="#000" stroke-width="7.4"/>
<path d="M420 3222.5C429.7 3222.3 455.4 3222.2 478 3221.5C500.6 3220.8 536.3 3219.1 555.8 3218C575.3 3216.9 581.8 3216.2 594.8 3215C607.8 3213.8 620.8 3213.2 633.8 3210.5C646.8 3207.8 659.7 3203.1 672.7 3198.5C685.7 3193.9 698.7 3188.8 711.7 3183C724.7 3177.2 738.6 3171.2 750.6 3163.5C762.6 3155.8 774.1 3144.2 783.8 3136.5C793.5 3128.8 801.5 3123.5 809 3117C816.5 3110.5 818.9 3108.6 828.6 3097.5C838.4 3086.4 854.5 3065.4 867.5 3050.5C880.5 3035.6 894.6 3023.6 906.5 3008C918.4 2992.4 927.1 2975.2 939 2957C950.9 2938.8 965 2921.8 978 2898.5C991 2875.2 1007.2 2837.1 1016.9 2817C1026.6 2796.9 1029.9 2791.8 1036.4 2778C1042.9 2764.2 1049.3 2747.2 1055.8 2734C1062.3 2720.8 1070.4 2706.3 1075.3 2698.5C1080.2 2690.7 1082.1 2689.6 1085 2687C1087.9 2684.4 1090.4 2682.8 1092.9 2683C1095.4 2683.2 1098.2 2685.2 1100 2688C1101.8 2690.8 1102.9 2693.8 1104 2700C1105.1 2706.2 1105.8 2712 1106.5 2725C1107.2 2738 1107.8 2756.2 1108.4 2778C1109.1 2799.8 1109.8 2830 1110.4 2856C1111.1 2882 1111.7 2904.8 1112.3 2934C1112.9 2963.2 1113.6 3005.1 1114.3 3031C1115 3056.9 1115.4 3071.9 1116.2 3089.5C1117 3107.1 1117.9 3122.2 1119 3136.5C1120.1 3150.8 1121.1 3165.4 1122.9 3175.5C1124.7 3185.6 1126.8 3191.8 1129.9 3197C1133 3202.2 1134.5 3204.2 1141.6 3206.5C1148.7 3208.8 1161 3209.5 1172.7 3210.5C1184.4 3211.5 1173.8 3212.6 1211.7 3212.5C1249.6 3212.4 1355.3 3211.2 1400 3210C1444.7 3208.8 1458.3 3206.8 1480 3205C1501.7 3203.2 1515.5 3201.4 1530 3199C1544.5 3196.6 1560.8 3191.9 1567 3190.5L1567 3190.5C1566 3192.3 1564.7 3197.7 1561 3201.2C1557.3 3204.8 1552.7 3209.3 1545 3212C1537.3 3214.7 1529.2 3216.2 1515 3217.5C1500.8 3218.8 1495.8 3219.3 1460 3220C1424.2 3220.7 1376.7 3221.2 1300 3221.5C1223.3 3221.8 1078.3 3221.5 1000 3221.5C921.7 3221.5 862.3 3221.4 830 3221.5C797.7 3221.6 811.5 3222.8 806 3222C800.5 3221.2 799.2 3221.5 797 3217C794.8 3212.5 793.7 3206.2 792.5 3195C791.3 3183.8 790.8 3165.8 790 3150C789.2 3134.2 788.7 3118.3 788 3100C787.3 3081.7 787 3057.3 786 3040C785 3022.7 782.7 3003.3 782 2996L782 2996C781.2 2998.7 779 3006.3 777 3012C775 3017.7 774.4 3020.3 770 3030C765.6 3039.7 760.3 3054.8 750.6 3070C740.9 3085.2 724.7 3106.1 711.7 3121C698.7 3135.9 685.7 3148.5 672.7 3159.5C659.7 3170.5 646.8 3179.5 633.8 3187C620.8 3194.5 607.8 3200 594.8 3204.5C581.8 3209 575.3 3211.2 555.8 3214C536.3 3216.8 500.6 3219.5 478 3221C455.4 3222.5 429.7 3222.7 420 3223" stroke="#f00" stroke-width="8" stroke-dasharray="0.5 20.5" stroke-linecap="round" stroke-dashoffset="12"/>
<path d="M420 3222.5C429.7 3222.2 455.4 3221.9 478 3221C500.6 3220.1 536.3 3218.2 555.8 3217C575.3 3215.8 581.8 3214.9 594.8 3213.5C607.8 3212.1 620.8 3211.6 633.8 3208.5C646.8 3205.4 659.7 3200.5 672.7 3195C685.7 3189.5 698.7 3182.7 711.7 3175.5C724.7 3168.3 738.3 3160.5 750.6 3152C762.9 3143.5 772.7 3134.2 785.7 3124.5C798.7 3114.8 815 3103.8 828.6 3093.5C842.2 3083.2 854.5 3074.2 867.5 3062.5C880.5 3050.8 894.6 3038.5 906.5 3023.5C918.4 3008.5 927.1 2990.1 939 2972.5C950.9 2954.9 965 2939.4 978 2918C991 2896.6 1007.2 2865 1016.9 2844C1026.6 2823 1029.9 2808.4 1036.4 2792C1042.9 2775.6 1049.3 2761.1 1055.8 2745.5C1062.3 2729.9 1068.8 2713.4 1075.3 2698.5C1081.8 2683.6 1088.3 2670.2 1094.8 2656C1101.3 2641.8 1107.8 2624.8 1114.3 2613C1120.8 2601.2 1127.9 2593 1133.8 2585.5C1139.7 2578 1145.5 2571.3 1149.4 2568C1153.3 2564.7 1154.6 2565 1157 2565.5C1159.4 2566 1162.1 2567.8 1164 2571C1165.9 2574.2 1167.2 2578.7 1168.5 2585C1169.8 2591.3 1170.7 2595.2 1171.6 2609C1172.5 2622.8 1173.2 2644.8 1173.9 2667.5C1174.6 2690.2 1174.9 2714.1 1175.5 2745.5C1176.1 2776.9 1176.7 2811.7 1177.4 2856C1178.1 2900.3 1178.9 2972.6 1179.7 3011.5C1180.5 3050.4 1181.6 3068.1 1182.5 3089.5C1183.4 3110.9 1183.9 3125.7 1185.2 3140C1186.5 3154.3 1187.8 3166.3 1190.3 3175.5C1192.8 3184.7 1195.1 3190.2 1200 3195C1204.9 3199.8 1211.1 3202.6 1219.5 3204.5C1227.9 3206.4 1232.4 3206.2 1250.6 3206.5C1268.8 3206.8 1302.6 3207.2 1328.6 3206.5C1354.6 3205.8 1380.5 3204.4 1406.5 3202.5C1432.5 3200.6 1464.7 3196.9 1484.4 3195C1504.1 3193.1 1510.9 3192.8 1524.7 3191C1538.5 3189.2 1560 3185.2 1567 3184L1567 3184C1566 3186.3 1564.7 3193.3 1561 3198C1557.3 3202.7 1552.7 3208.8 1545 3212C1537.3 3215.2 1529.2 3216.2 1515 3217.5C1500.8 3218.8 1495.8 3219.3 1460 3220C1424.2 3220.7 1376.7 3221.2 1300 3221.5C1223.3 3221.8 1078.3 3221.5 1000 3221.5C921.7 3221.5 862.3 3221.4 830 3221.5C797.7 3221.6 811.5 3222.8 806 3222C800.5 3221.2 799.2 3221.5 797 3217C794.8 3212.5 793.7 3206.2 792.5 3195C791.3 3183.8 790.8 3165.8 790 3150C789.2 3134.2 788.7 3121.7 788 3100C787.3 3078.3 786.7 3043.8 786 3020C785.3 2996.2 784.2 2967.5 783.8 2957L783.8 2957C782.8 2961.2 780.3 2974.2 778 2982C775.7 2989.8 774.6 2992.6 770 3004C765.4 3015.4 760.3 3032.3 750.6 3050.5C740.9 3068.7 724.7 3096.1 711.7 3113C698.7 3129.9 685.7 3140.3 672.7 3152C659.7 3163.7 646.8 3174.6 633.8 3183C620.8 3191.4 607.8 3197.2 594.8 3202.5C581.8 3207.8 575.3 3211.4 555.8 3214.5C536.3 3217.6 500.6 3219.6 478 3221C455.4 3222.4 429.7 3222.7 420 3223" stroke="#0f0" stroke-width="8" stroke-dasharray="34.5 21.3" stroke-linecap="round" stroke-dashoffset="7.8"/>
<path d="M420 3222.5C429.7 3222.1 461.8 3221.3 478 3220C494.2 3218.7 503.3 3216.2 517 3214.5C530.7 3212.8 544.5 3212.1 560 3210C575.5 3207.9 596.5 3205 610 3202C623.5 3199 631 3196.5 641 3192C651 3187.5 660.8 3181 670 3175C679.2 3169 685.8 3163.7 696 3156C706.2 3148.3 718.7 3140 731 3129C743.3 3118 757 3103.7 770 3090C783 3076.3 799.2 3058.1 809 3047C818.8 3035.9 818.9 3035.9 828.6 3023.5C838.4 3011.1 854.5 2990.1 867.5 2972.5C880.5 2954.9 893.5 2936.2 906.5 2918C919.5 2899.8 932.4 2881.7 945.4 2863.5C958.4 2845.3 972.5 2827.2 984.4 2809C996.3 2790.8 1008.2 2769 1016.9 2754.5C1025.6 2740 1026.7 2739.1 1036.4 2722C1046.1 2704.9 1062.3 2676.7 1075.3 2652C1088.3 2627.3 1101.3 2600 1114.3 2574C1127.3 2548 1140.2 2522.6 1153.2 2496C1166.2 2469.4 1179.2 2440.4 1192.2 2414.5C1205.2 2388.6 1221.5 2357.4 1231.2 2340.5C1240.9 2323.6 1244.1 2320.8 1250.6 2313C1257.1 2305.2 1265.2 2297.3 1270.1 2293.5C1275 2289.7 1276.7 2290.1 1279.9 2290.4C1283.2 2290.7 1287 2291.7 1289.6 2295.5C1292.2 2299.3 1293.9 2304.2 1295.5 2313C1297.1 2321.8 1298.3 2334.3 1299.4 2348C1300.5 2361.7 1301.2 2374.2 1302 2395C1302.8 2415.8 1303.3 2440.1 1304 2472.5C1304.7 2504.9 1305.3 2550.5 1306 2589.5C1306.7 2628.5 1307.3 2668.6 1308 2706.5C1308.7 2744.4 1309.2 2782.6 1309.9 2817C1310.6 2851.4 1311.4 2888.3 1312 2913C1312.6 2937.7 1312.5 2942.8 1313.6 2965C1314.7 2987.2 1316.9 3025.4 1318.5 3046C1320.1 3066.6 1321.2 3076 1323.4 3088.5C1325.6 3101 1328.2 3112.9 1331.5 3121C1334.8 3129.1 1336.7 3131.9 1342.9 3137C1349.1 3142.1 1360.2 3146.9 1368.8 3151.5C1377.4 3156.1 1387.8 3160.2 1394.8 3164.5C1401.8 3168.8 1404.5 3174.1 1411 3177.5C1417.5 3180.9 1425.7 3183.7 1433.8 3185C1441.9 3186.3 1451 3185.9 1459.7 3185.5C1468.4 3185.1 1477.6 3183.8 1485.7 3182.5C1493.8 3181.2 1499.2 3179.7 1508.4 3177.5C1517.6 3175.3 1531.1 3171.9 1540.9 3169.5C1550.7 3167.1 1562.7 3164.1 1567 3163L1567 3163C1566.2 3164.1 1564.7 3166.2 1562 3169.5C1559.3 3172.8 1556.8 3178.2 1550.6 3182.5C1544.4 3186.8 1534.4 3191.4 1524.7 3195.5C1515 3199.6 1503 3204 1492.2 3207C1481.4 3210 1475.9 3211.3 1459.7 3213.5C1443.5 3215.7 1421.8 3218.5 1394.8 3220C1367.8 3221.5 1329.9 3222 1297.4 3222.5C1264.9 3223 1249.6 3223.1 1200 3223C1150.4 3222.9 1058.3 3222.1 1000 3222C941.7 3221.9 880 3221.5 850 3222.5C820 3223.5 827.5 3226.5 820 3228C812.5 3229.5 809 3232 805.2 3231.5C801.4 3231 799 3227.9 797 3225C795 3222.1 794.5 3223.6 793.5 3214C792.5 3204.4 791.8 3194.8 791 3167.5C790.2 3140.2 789.6 3084.6 789 3050C788.4 3015.4 787.9 2983.2 787.5 2960C787.1 2936.8 787 2918.8 786.9 2910.5L786.9 2910.5C786.5 2914.6 785.6 2927.2 784.5 2935C783.4 2942.8 781.8 2950.8 780 2957C778.2 2963.2 778.9 2962.1 774 2972.5C769.1 2982.9 761 3001.2 750.6 3019.5C740.2 3037.8 724.7 3063.8 711.7 3082C698.7 3100.2 685.7 3114.9 672.7 3128.5C659.7 3142.1 646.8 3153.8 633.8 3163.5C620.8 3173.2 607.8 3179.8 594.8 3187C581.8 3194.2 568.8 3201.7 555.8 3206.5C542.8 3211.3 536.4 3213.4 516.9 3216C497.4 3218.6 455.1 3220.8 439 3222C422.9 3223.2 423.2 3222.8 420 3223" stroke="#00f" stroke-width="8" stroke-dasharray="46 20.5 1 20.5 1 20" stroke-linecap="round" stroke-dashoffset="74.5"/>
</g>
<line x1="388" y1="1987" x2="420" y2="1987" stroke="#000" stroke-width="9.4" stroke-linecap="butt"/>
<line x1="388" y1="2233.1" x2="420" y2="2233.1" stroke="#000" stroke-width="9.4" stroke-linecap="butt"/>
<line x1="388" y1="2479.2" x2="420" y2="2479.2" stroke="#000" stroke-width="9.4" stroke-linecap="butt"/>
<line x1="388" y1="2725.3" x2="420" y2="2725.3" stroke="#000" stroke-width="9.4" stroke-linecap="butt"/>
<line x1="388" y1="2971.4" x2="420" y2="2971.4" stroke="#000" stroke-width="9.4" stroke-linecap="butt"/>
<line x1="388" y1="3217.5" x2="420" y2="3217.5" stroke="#000" stroke-width="9.4" stroke-linecap="butt"/>
<line x1="397" y1="2110.1" x2="420" y2="2110.1" stroke="#000" stroke-width="7.4" stroke-linecap="butt"/>
<line x1="397" y1="2356.2" x2="420" y2="2356.2" stroke="#000" stroke-width="7.4" stroke-linecap="butt"/>
<line x1="397" y1="2602.2" x2="420" y2="2602.2" stroke="#000" stroke-width="7.4" stroke-linecap="butt"/>
<line x1="397" y1="2848.3" x2="420" y2="2848.3" stroke="#000" stroke-width="7.4" stroke-linecap="butt"/>
<line x1="397" y1="3094.4" x2="420" y2="3094.4" stroke="#000" stroke-width="7.4" stroke-linecap="butt"/>
<line x1="665.5" y1="3341" x2="665.5" y2="3372" stroke="#000" stroke-width="8.6" stroke-linecap="butt"/>
<line x1="1075.3" y1="3341" x2="1075.3" y2="3372" stroke="#000" stroke-width="8.6" stroke-linecap="butt"/>
<line x1="1485.1" y1="3341" x2="1485.1" y2="3372" stroke="#000" stroke-width="8.6" stroke-linecap="butt"/>
<line x1="1894.9" y1="3341" x2="1894.9" y2="3372" stroke="#000" stroke-width="8.6" stroke-linecap="butt"/>
<line x1="460.6" y1="3341" x2="460.6" y2="3364.5" stroke="#000" stroke-width="7.4" stroke-linecap="butt"/>
<line x1="870.4" y1="3341" x2="870.4" y2="3364.5" stroke="#000" stroke-width="7.4" stroke-linecap="butt"/>
<line x1="1280.2" y1="3341" x2="1280.2" y2="3364.5" stroke="#000" stroke-width="7.4" stroke-linecap="butt"/>
<line x1="1690" y1="3341" x2="1690" y2="3364.5" stroke="#000" stroke-width="7.4" stroke-linecap="butt"/>
<line x1="2099.8" y1="3341" x2="2099.8" y2="3364.5" stroke="#000" stroke-width="7.4" stroke-linecap="butt"/>
<rect x="420" y="1987" width="1884.5" height="1354" fill="none" stroke="#000" stroke-width="9.6"/>
<line x1="388" y1="1987" x2="420" y2="1987" stroke="#000" stroke-width="9.6" stroke-linecap="butt"/>
<line x1="397" y1="3341" x2="420" y2="3341" stroke="#000" stroke-width="9.6" stroke-linecap="butt"/>
<line x1="2304.5" y1="3341" x2="2304.5" y2="3372" stroke="#000" stroke-width="9.6" stroke-linecap="butt"/>
<text transform="translate(29.3 1994.0) scale(0.8759 1)" font-size="157.97">B</text>
<text transform="translate(217.7 2018.3) scale(0.9285 1)" font-size="93.80">100</text>
<text transform="translate(265.4 2264.5) scale(0.9699 1)" font-size="89.72">80</text>
<text transform="translate(264.9 2505.9) scale(0.9581 1)" font-size="91.27">60</text>
<text transform="translate(264.7 2750.6) scale(0.9773 1)" font-size="89.72">40</text>
<text transform="translate(264.9 2999.6) scale(0.9625 1)" font-size="90.85">20</text>
<text transform="translate(314.5 3242.1) scale(0.9313 1)" font-size="91.55">0</text>
<text transform="translate(584.0 3460.3) scale(0.9167 1)" font-size="70.91">−</text>
<text transform="translate(620.2 3461.1) scale(0.9690 1)" font-size="88.03">0.5</text>
<text transform="translate(1015.5 3462.1) scale(0.9394 1)" font-size="88.73">0.0</text>
<text transform="translate(1425.6 3462.1) scale(0.9716 1)" font-size="88.73">0.5</text>
<text transform="translate(1836.1 3462.1) scale(0.9428 1)" font-size="88.73">1.0</text>
<text transform="translate(821.8 3574.8) scale(0.9987 1)" font-size="95.53">Potential (V) vs. Ag/AgCl</text>
<text transform="translate(178.7 2951.5) rotate(-90) scale(0.9679 1)" font-size="89.63">Current (mA)</text>
<path d="M481.3 2060.5H657.7" stroke="#00f" stroke-width="8.6" stroke-dasharray="45.4 21.1 0.4 21.1 0.4 20.6" stroke-linecap="round" stroke-dashoffset="0"/>
<path d="M481.8 2134H653.2" stroke="#0f0" stroke-width="8.6" stroke-dasharray="33.9 21.9" stroke-linecap="round" stroke-dashoffset="0"/>
<path d="M478.2 2207.7H647.7" stroke="#f00" stroke-width="8.6" stroke-dasharray="0.01 20.99" stroke-linecap="round" stroke-dashoffset="0"/>
<path d="M475 2280H657" stroke="#000" stroke-width="8.6"/>
<text transform="translate(681.6 2081.8) scale(1.0000 1)" font-size="64.00">40 cycles</text>
<text transform="translate(681.6 2154.5) scale(1.0000 1)" font-size="64.00">30 cycles</text>
<text transform="translate(681.6 2228.0) scale(1.0000 1)" font-size="64.00">20 cycles</text>
<text transform="translate(681.6 2302.0) scale(1.0000 1)" font-size="64.00">10 cycles</text>
<line x1="1506.5" y1="2031.8" x2="1521.3" y2="2031.8" stroke="#000" stroke-width="5.5" stroke-linecap="butt"/>
<line x1="1506.5" y1="2125.2" x2="1521.3" y2="2125.2" stroke="#000" stroke-width="5.5" stroke-linecap="butt"/>
<line x1="1506.5" y1="2218.7" x2="1521.3" y2="2218.7" stroke="#000" stroke-width="5.5" stroke-linecap="butt"/>
<line x1="1506.5" y1="2312.2" x2="1521.3" y2="2312.2" stroke="#000" stroke-width="5.5" stroke-linecap="butt"/>
<line x1="1506.5" y1="2405.6" x2="1521.3" y2="2405.6" stroke="#000" stroke-width="5.5" stroke-linecap="butt"/>
<line x1="1506.5" y1="2499.1" x2="1521.3" y2="2499.1" stroke="#000" stroke-width="5.5" stroke-linecap="butt"/>
<line x1="1506.5" y1="2592.5" x2="1521.3" y2="2592.5" stroke="#000" stroke-width="5.5" stroke-linecap="butt"/>
<line x1="1509" y1="2078.5" x2="1521.3" y2="2078.5" stroke="#000" stroke-width="4.5" stroke-linecap="butt"/>
<line x1="1509" y1="2172" x2="1521.3" y2="2172" stroke="#000" stroke-width="4.5" stroke-linecap="butt"/>
<line x1="1509" y1="2265.4" x2="1521.3" y2="2265.4" stroke="#000" stroke-width="4.5" stroke-linecap="butt"/>
<line x1="1509" y1="2358.9" x2="1521.3" y2="2358.9" stroke="#000" stroke-width="4.5" stroke-linecap="butt"/>
<line x1="1509" y1="2452.3" x2="1521.3" y2="2452.3" stroke="#000" stroke-width="4.5" stroke-linecap="butt"/>
<line x1="1509" y1="2545.8" x2="1521.3" y2="2545.8" stroke="#000" stroke-width="4.5" stroke-linecap="butt"/>
<line x1="1618.3" y1="2592.5" x2="1618.3" y2="2609" stroke="#000" stroke-width="5" stroke-linecap="butt"/>
<line x1="1812.9" y1="2592.5" x2="1812.9" y2="2609" stroke="#000" stroke-width="5" stroke-linecap="butt"/>
<line x1="2007.4" y1="2592.5" x2="2007.4" y2="2609" stroke="#000" stroke-width="5" stroke-linecap="butt"/>
<line x1="2203" y1="2592.5" x2="2203" y2="2609" stroke="#000" stroke-width="5" stroke-linecap="butt"/>
<line x1="1579.2" y1="2327" x2="1579.2" y2="2357.2" stroke="#000" stroke-width="4" stroke-linecap="butt"/>
<line x1="1567.2" y1="2327" x2="1591.2" y2="2327" stroke="#000" stroke-width="4" stroke-linecap="butt"/>
<line x1="1656.7" y1="2472" x2="1656.7" y2="2478.6" stroke="#000" stroke-width="4" stroke-linecap="butt"/>
<line x1="1644.7" y1="2472" x2="1668.7" y2="2472" stroke="#000" stroke-width="4" stroke-linecap="butt"/>
<rect x="1543.5" y="2355.2" width="71.3" height="237.3" fill="#000"/>
<rect x="1622.8" y="2476.8" width="67.6" height="113.4" fill="#fff" stroke="#222" stroke-width="4.5"/>
<line x1="1774.7" y1="2227.8" x2="1774.7" y2="2252" stroke="#000" stroke-width="4" stroke-linecap="butt"/>
<line x1="1762.7" y1="2227.8" x2="1786.7" y2="2227.8" stroke="#000" stroke-width="4" stroke-linecap="butt"/>
<line x1="1852.5" y1="2466" x2="1852.5" y2="2472.8" stroke="#000" stroke-width="4" stroke-linecap="butt"/>
<line x1="1840.5" y1="2466" x2="1864.5" y2="2466" stroke="#000" stroke-width="4" stroke-linecap="butt"/>
<rect x="1739" y="2250" width="71.4" height="342.5" fill="#000"/>
<rect x="1819.7" y="2471.1" width="65.6" height="119.2" fill="#fff" stroke="#222" stroke-width="4.5"/>
<line x1="1969.9" y1="2194.2" x2="1969.9" y2="2211.9" stroke="#000" stroke-width="4" stroke-linecap="butt"/>
<line x1="1957.9" y1="2194.2" x2="1981.9" y2="2194.2" stroke="#000" stroke-width="4" stroke-linecap="butt"/>
<line x1="2047.8" y1="2457" x2="2047.8" y2="2463.9" stroke="#000" stroke-width="4" stroke-linecap="butt"/>
<line x1="2035.8" y1="2457" x2="2059.8" y2="2457" stroke="#000" stroke-width="4" stroke-linecap="butt"/>
<rect x="1934.8" y="2209.9" width="70.2" height="382.6" fill="#000"/>
<rect x="2014.8" y="2462.2" width="65.9" height="128.1" fill="#fff" stroke="#222" stroke-width="4.5"/>
<line x1="2164.2" y1="2117.8" x2="2164.2" y2="2145.9" stroke="#000" stroke-width="4" stroke-linecap="butt"/>
<line x1="2152.2" y1="2117.8" x2="2176.2" y2="2117.8" stroke="#000" stroke-width="4" stroke-linecap="butt"/>
<line x1="2241.9" y1="2436.2" x2="2241.9" y2="2448.2" stroke="#000" stroke-width="4" stroke-linecap="butt"/>
<line x1="2229.9" y1="2436.2" x2="2253.9" y2="2436.2" stroke="#000" stroke-width="4" stroke-linecap="butt"/>
<rect x="2128.3" y="2143.9" width="71.9" height="448.6" fill="#000"/>
<rect x="2209.4" y="2446.4" width="64.9" height="143.8" fill="#fff" stroke="#222" stroke-width="4.5"/>
<line x1="1521.3" y1="2031.8" x2="1521.3" y2="2592.5" stroke="#000" stroke-width="5" stroke-linecap="butt"/>
<line x1="1506.5" y1="2031.8" x2="2304.5" y2="2031.8" stroke="#000" stroke-width="4.4" stroke-linecap="butt"/>
<line x1="1506.5" y1="2592.5" x2="2304.5" y2="2592.5" stroke="#000" stroke-width="4.8" stroke-linecap="butt"/>
<text transform="translate(1424.5 2047.3) scale(0.9609 1)" font-size="45.77" class="ts">600</text>
<text transform="translate(1424.5 2140.7) scale(0.9610 1)" font-size="45.77" class="ts">500</text>
<text transform="translate(1424.4 2234.2) scale(0.9610 1)" font-size="45.77" class="ts">400</text>
<text transform="translate(1424.4 2327.6) scale(0.9610 1)" font-size="45.77" class="ts">300</text>
<text transform="translate(1424.5 2421.1) scale(0.9609 1)" font-size="45.77" class="ts">200</text>
<text transform="translate(1424.5 2514.5) scale(0.9609 1)" font-size="45.77" class="ts">100</text>
<text transform="translate(1473.7 2608.0) scale(0.9513 1)" font-size="45.77" class="ts">0</text>
<text transform="translate(1595.2 2655.2) scale(0.9738 1)" font-size="43.52" class="ts">10</text>
<text transform="translate(1790.5 2655.2) scale(0.9740 1)" font-size="43.52" class="ts">20</text>
<text transform="translate(1985.2 2655.2) scale(0.9741 1)" font-size="43.52" class="ts">30</text>
<text transform="translate(2181.0 2655.2) scale(0.9741 1)" font-size="43.52" class="ts">40</text>
<rect x="1549.3" y="2068.8" width="74.1" height="21.5" fill="#000"/>
<rect x="1551.3" y="2111.7" width="70.1" height="16.7" fill="#fff" stroke="#333" stroke-width="4"/>
<text transform="translate(1639.4 2084.3) scale(0.9771 1)" font-size="31.97" class="ts">forward</text>
<text transform="translate(1637.8 2129.9) scale(0.9802 1)" font-size="32.11" class="ts">backward</text>
<text transform="translate(1699.9 2710.8) scale(1.0241 1)" font-size="51.38" class="ts">Scanning cycles</text>
<text transform="translate(1401.7 2442.5) rotate(-90) scale(1.0368 1)" font-size="51.76" class="ts">j (mA cm</text>
<text transform="translate(1383.5 2217.4) rotate(-90) scale(0.6800 1)" font-size="50.00">−</text>
<text transform="translate(1375.3 2199.6) rotate(-90) scale(0.9923 1)" font-size="38.00" class="ts">2</text>
<text transform="translate(1401.7 2179.4) rotate(-90) scale(1.0349 1)" font-size="51.76" class="ts">)</text>
</g>

</svg>
</body></html>
